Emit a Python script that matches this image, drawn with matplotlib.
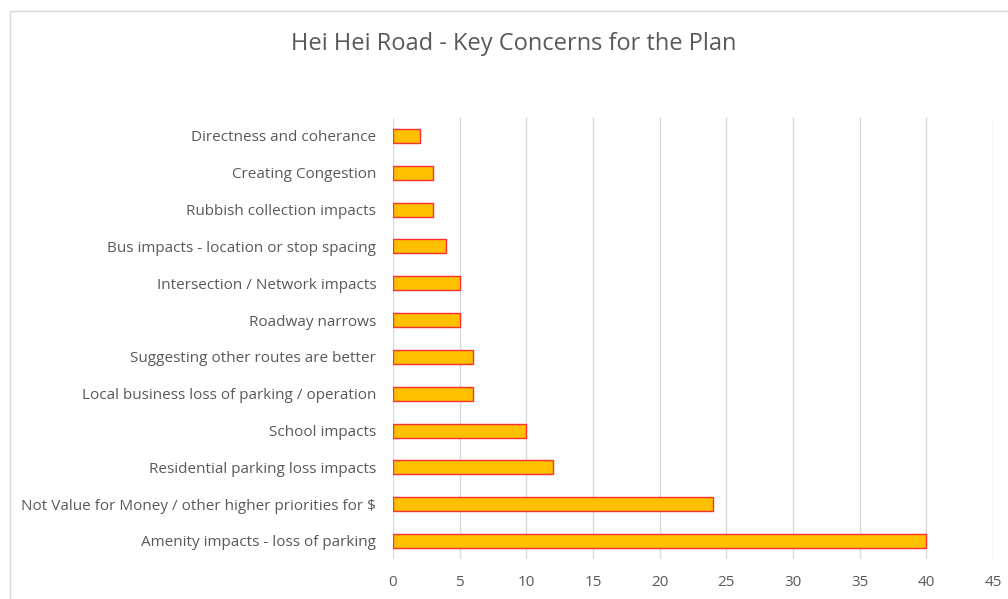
import matplotlib
matplotlib.use("Agg")
import matplotlib.pyplot as plt
from matplotlib.patches import Rectangle

categories = [
    "Amenity impacts - loss of parking",
    "Not Value for Money / other higher priorities for $",
    "Residential parking loss impacts",
    "School impacts",
    "Local business loss of parking / operation",
    "Suggesting other routes are better",
    "Roadway narrows",
    "Intersection / Network impacts",
    "Bus impacts - location or stop spacing",
    "Rubbish collection impacts",
    "Creating Congestion",
    "Directness and coherance",
]
counts = [40, 24, 12, 10, 6, 6, 5, 5, 4, 3, 3, 2]
x_ticks = [0, 5, 10, 15, 20, 25, 30, 35, 40, 45]
title = "Hei Hei Road - Key Concerns for the Plan"

plt.rcParams["font.family"] = ["Open Sans", "DejaVu Sans"]
text_color = "#595959"

fig = plt.figure(figsize=(10.08, 5.99), dpi=100)
fig.patch.set_facecolor("white")

# chart frame
fig.patches.append(Rectangle((10 / 1008, -0.1), 1.2, (599 - 11) / 599 + 0.1,
                             transform=fig.transFigure, fill=False,
                             edgecolor="#D9D9D9", linewidth=1.0))

ax = fig.add_axes([393 / 1008, 0.0661, 600 / 1008, 0.7376])
ypos = list(range(len(categories)))
ax.barh(ypos, counts, height=0.38, color="#FFC000", edgecolor="#FF3030",
        linewidth=1.0, zorder=3)

ax.set_xlim(0, 45)
ax.set_ylim(-0.5, len(categories) - 0.5)
ax.set_xticks(x_ticks)
ax.set_xticklabels([str(t) for t in x_ticks])
ax.set_yticks(ypos)
ax.set_yticklabels(categories)
ax.grid(axis="x", color="#D9D9D9", linewidth=1.0, zorder=0)
ax.set_axisbelow(True)
for s in ax.spines.values():
    s.set_visible(False)
ax.tick_params(axis="both", length=0, colors=text_color, labelsize=11)
ax.tick_params(axis="y", pad=12)
ax.tick_params(axis="x", pad=11)

fig.text(514 / 1008, 1 - 44 / 599, title, ha="center", va="center",
         fontsize=17, color=text_color)

fig.savefig("out.png", dpi=100)
